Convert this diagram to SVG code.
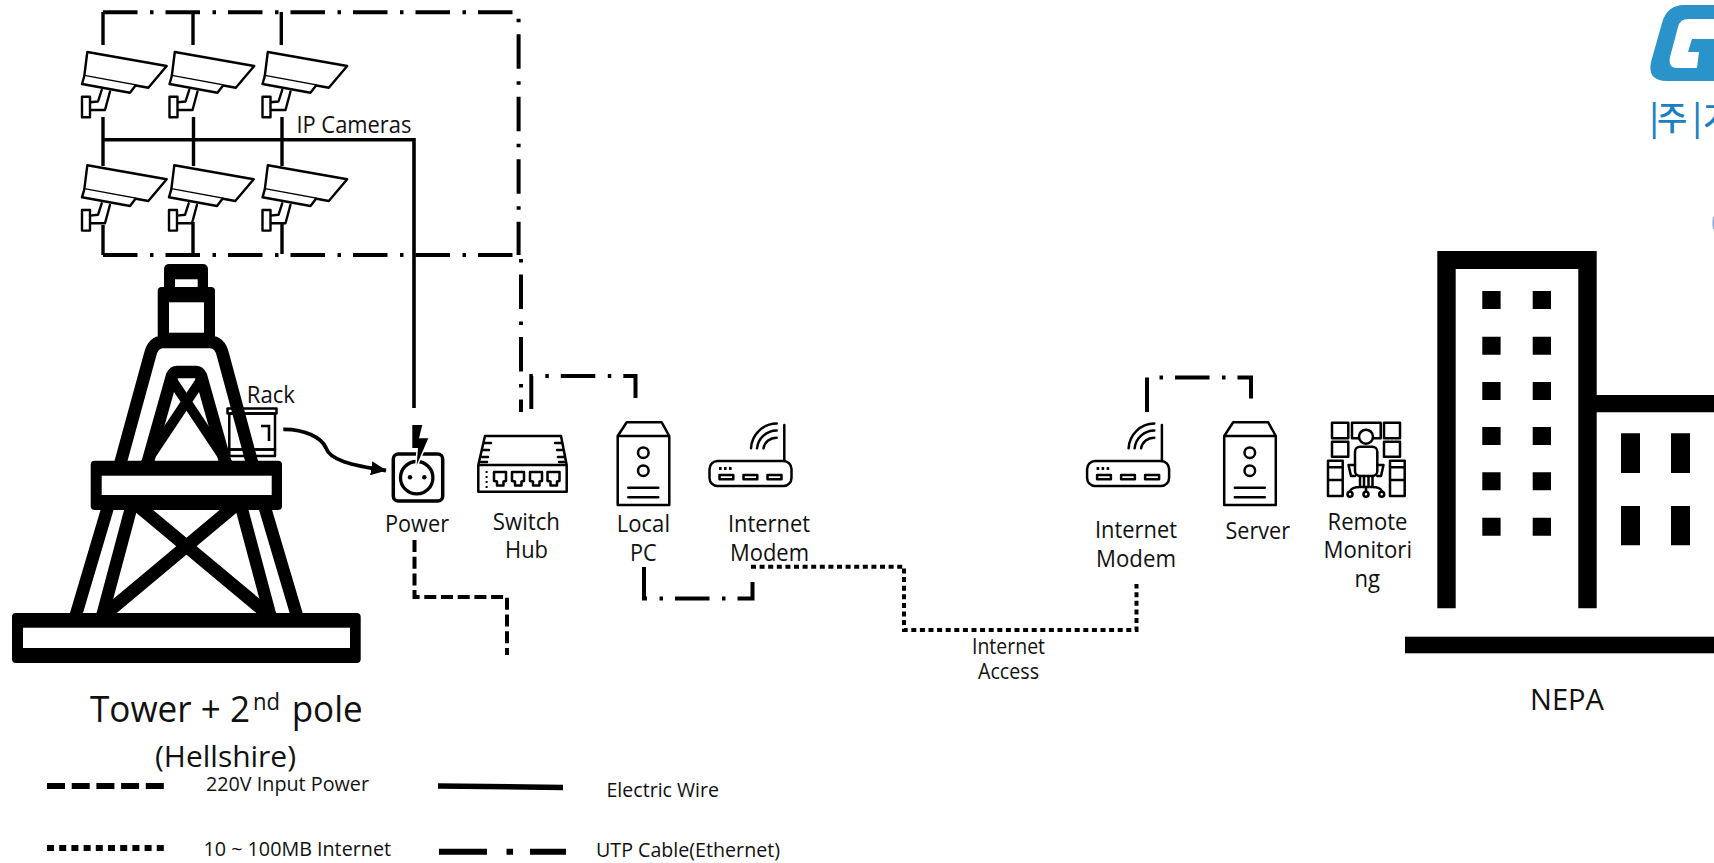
<svg xmlns="http://www.w3.org/2000/svg" xmlns:xlink="http://www.w3.org/1999/xlink" width="1714" height="863" viewBox="0 0 1714 863">
<style>
text{font-family:"Open Sans","Noto Sans","Liberation Sans",sans-serif;fill:#111}
.l{font-size:23px}
.s{font-size:21px}
.k{font-size:20px}
.i{fill:#fff;stroke:#000;stroke-width:2.4;stroke-linejoin:round;stroke-linecap:round}
.n{fill:none;stroke:#000;stroke-width:2.5;stroke-linejoin:round;stroke-linecap:round}
.c{fill:none;stroke:#000;stroke-width:3.4;stroke-linejoin:miter}
.utp{fill:none;stroke:#000;stroke-width:4;stroke-dasharray:34.5 12.5 3.5 12}
.wire{fill:none;stroke:#000;stroke-width:3.6}
.pw{fill:none;stroke:#000;stroke-width:4;stroke-dasharray:12 4.7}
.net{fill:none;stroke:#000;stroke-width:4;stroke-dasharray:5 3.6}
.t{fill:none;stroke:#000;stroke-width:12.5;stroke-linejoin:round}
</style>
<defs>
<marker id="ah" markerUnits="userSpaceOnUse" markerWidth="16" markerHeight="16" refX="15" refY="8" orient="auto"><path d="M0,1 L15.5,8 L0,15 Z" fill="#000"/></marker>
<g id="cam">
<path class="i" d="M87.3,52 L166.7,66 L148.3,87.7 L84.3,76 Z"/>
<path class="i" d="M84.3,76 L82,84 L130,92.7 L135.5,85.5"/>
<path class="i" d="M101.7,90 L98,101.5 L90,102.3 M90,110 L105,110 L110,91.5"/>
<rect class="i" x="82" y="96.7" width="8" height="20.6"/>
</g>
<g id="box">
<path class="n" d="M617.7,436 L626.7,422.3 H661.7 L669.3,436 Z M617.7,436 V505 H669.3 V436"/>
<circle class="n" cx="643.3" cy="452.7" r="5.3"/>
<circle class="n" cx="643.3" cy="470.7" r="5.3"/>
<path class="n" d="M628.3,487.7 H658.3 M628.3,497.3 H658.3"/>
</g>
<g id="router">
<rect class="n" x="709.5" y="461" width="82" height="25" rx="8"/>
<path class="n" d="M784.3,425 V461"/>
<path class="n" d="M751,448.3 A26,26 0 0 1 776.7,423.5 M757,448.3 A20,20 0 0 1 776.7,430.5 M763.5,448.3 A13,13 0 0 1 776.7,437.7"/>
<path class="n" d="M719.5,475 H733.3 V479.3 H719.5 Z M743.5,475 H757.3 V479.3 H743.5 Z M767.5,475 H781.5 V479.3 H767.5 Z"/>
<path d="M719,467 h2.6 v3 h-2.6 z M724,467 h2.6 v3 h-2.6 z M729,467 h2.6 v3 h-2.6 z" fill="#000"/>
</g>
<path id="port" class="n" d="M0,0 H12 V9 L9.5,9.5 V13.5 H3 V9.5 L0,9 Z"/>
</defs>

<rect width="1714" height="863" fill="#fff"/>

<g id="connectors">
<path class="utp" d="M103,12.3 H518.6 V255"/>
<path class="utp" d="M103,255 H521 V412"/>
<path class="c" d="M103,12 V45 M193,12 V45 M281.3,12 V45"/>
<path class="c" d="M103,117 V166 M193.5,117 V166 M282,117 V166"/>
<path class="c" d="M103,225 V255 M193,222 V255 M282,222 V254"/>
<path class="wire" d="M103,139.7 H414 V408"/>
<path class="utp" d="M531.3,409 V376 H635.5 V398"/>
<path class="utp" d="M644,567 V598.5 H752.5 V582"/>
<path class="utp" d="M1147,412 V377.5 H1251 V401"/>
<path class="pw" d="M414.5,540 V597 H507 V655"/>
<path class="net" d="M751,566.7 H904 V630 H1136.5 V584"/>
<path d="M283.3,429.3 C305,429 322,438 326,448 C330,460 350,465 386,470.5" fill="none" stroke="#000" stroke-width="3.8" marker-end="url(#ah)"/>
</g>

<g id="cameras">
<use xlink:href="#cam"/><use xlink:href="#cam" x="87.5"/><use xlink:href="#cam" x="180.5"/>
<use xlink:href="#cam" y="113.3"/><use xlink:href="#cam" x="87" y="113.3"/><use xlink:href="#cam" x="180.5" y="113.3"/>
<text class="l" x="296.4" y="133.3" textLength="115" lengthAdjust="spacingAndGlyphs">IP Cameras</text>
</g>

<g id="rack">
<rect class="n" x="227.5" y="408.5" width="49" height="5"/>
<rect class="n" x="229.3" y="413.5" width="45.7" height="36"/>
<rect class="n" x="229.3" y="449.5" width="45.7" height="6.5"/>
<path d="M261,426 H269 V441" fill="none" stroke="#000" stroke-width="2.6"/>
<text class="l" x="246.7" y="402.7" textLength="48.3" lengthAdjust="spacingAndGlyphs">Rack</text>
</g>

<g id="tower">
<path class="t" d="M118.5,470 L150,355 Q153,342 163,342 H210 Q220,342 223,355 L254,470"/>
<path class="t" d="M145.5,470 L172,376 Q174,372 177,372 H196 Q199,372 201,376 L227.5,470"/>
<path class="t" style="stroke-width:10" d="M172,380 L232,470 M201,380 L141,470"/>
<path class="t" d="M110,500 L73.8,622 M133.2,500 L100.6,622 M262.6,500 L298.8,622 M239.4,500 L272,622"/>
<path class="t" style="stroke-width:13" d="M131,500 L276,621 M241.7,500 L97,621"/>
<rect x="164" y="264" width="44" height="30" rx="5" fill="#000"/>
<rect x="175" y="279.3" width="22.7" height="8" fill="#fff"/>
<rect x="157.7" y="287" width="57.3" height="52" rx="4" fill="#000"/>
<rect x="169" y="302.3" width="35" height="30.4" fill="#fff"/>
<rect x="90.7" y="460.7" width="191.3" height="49.3" rx="4" fill="#000"/>
<rect x="101.7" y="475.7" width="170" height="19.3" fill="#fff"/>
<rect x="12" y="613" width="348.7" height="50" rx="4" fill="#000"/>
<rect x="23" y="627.7" width="327" height="20.3" fill="#fff"/>
<text style="font-size:36px" x="90" y="721.7"><tspan textLength="160" lengthAdjust="spacingAndGlyphs">Tower + 2</tspan><tspan x="253" y="710" style="font-size:23px" textLength="27" lengthAdjust="spacingAndGlyphs">nd</tspan><tspan x="291.7" y="721.7" textLength="71" lengthAdjust="spacingAndGlyphs">pole</tspan></text>
<text style="font-size:30px" x="155" y="766.7" textLength="141" lengthAdjust="spacingAndGlyphs">(Hellshire)</text>
</g>

<g id="power">
<rect x="393.3" y="453.9" width="49.4" height="47.2" rx="5" fill="none" stroke="#000" stroke-width="3.5"/>
<circle cx="416.7" cy="477.7" r="16.2" fill="none" stroke="#000" stroke-width="3.3"/>
<circle cx="410" cy="477.3" r="2.2"/><circle cx="424.3" cy="477.3" r="2.2"/>
<path d="M412.3,425 H422.3 L419,438.3 H428.3 L416.7,465 L418,448 H412.3 Z" fill="#000" stroke="#fff" stroke-width="3" paint-order="stroke"/>
<text class="l" x="385" y="532" textLength="64" lengthAdjust="spacingAndGlyphs">Power</text>
</g>

<g id="switch">
<path class="n" d="M485,436 H561 L566.7,465 H478.3 Z M478.3,465 V491.7 H566.7 V465"/>
<path class="n" d="M484,443 H491 M483,450 H489 M482,457 H488 M481,462 H487 M555,443 H562 M557,450 H563 M558,457 H564 M559,462 H565"/>
<path d="M485.6,471 h2 v2 h-2 z M485.6,476 h2 v2 h-2 z M485.6,481 h2 v2 h-2 z M485.6,486 h2 v2 h-2 z" fill="#000"/>
<use xlink:href="#port" x="494" y="472"/><use xlink:href="#port" x="512" y="472"/><use xlink:href="#port" x="530" y="472"/><use xlink:href="#port" x="547.5" y="472"/>
<text class="l" x="492.7" y="530" textLength="67.3" lengthAdjust="spacingAndGlyphs">Switch</text>
<text class="l" x="505" y="558" textLength="43" lengthAdjust="spacingAndGlyphs">Hub</text>
</g>

<g id="local-pc">
<use xlink:href="#box"/>
<text class="l" x="616.7" y="532" textLength="53.3" lengthAdjust="spacingAndGlyphs">Local</text>
<text class="l" x="630" y="560.7" textLength="26.6" lengthAdjust="spacingAndGlyphs">PC</text>
</g>

<g id="modem-local">
<use xlink:href="#router"/>
<text class="l" x="728" y="532" textLength="82" lengthAdjust="spacingAndGlyphs">Internet</text>
<text class="l" x="730" y="560.7" textLength="79" lengthAdjust="spacingAndGlyphs">Modem</text>
</g>

<g id="internet-access">
<text class="s" x="972" y="654" textLength="73" lengthAdjust="spacingAndGlyphs">Internet</text>
<text class="s" x="978" y="679" textLength="61" lengthAdjust="spacingAndGlyphs">Access</text>
</g>

<g id="modem-remote">
<use xlink:href="#router" x="377.6"/>
<text class="l" x="1095" y="538" textLength="82" lengthAdjust="spacingAndGlyphs">Internet</text>
<text class="l" x="1096" y="566.7" textLength="80" lengthAdjust="spacingAndGlyphs">Modem</text>
</g>

<g id="server">
<use xlink:href="#box" x="606.5"/>
<text class="l" x="1225.4" y="539" textLength="64.6" lengthAdjust="spacingAndGlyphs">Server</text>
</g>

<g id="remote-monitoring">
<path class="n" d="M1332,422.7 H1348.3 V438.3 H1332 Z M1384,422.7 H1400 V438.3 H1384 Z M1332,441.7 H1348.3 V456.7 H1332 Z M1384,441.7 H1400 V456.7 H1384 Z"/>
<path class="n" d="M1352,422.7 H1380.7 V438.3 H1373 M1352,422.7 V438.3 H1359"/>
<circle class="n" cx="1366" cy="436.7" r="7"/>
<rect class="n" x="1355" y="446.7" width="22.3" height="29.3" rx="5"/>
<path class="n" d="M1328,460.7 H1342.7 V496 H1328 Z M1328,467.3 H1342.7 M1328,480 H1342.7 M1390,460.7 H1404.7 V496 H1390 Z M1390,467.3 H1404.7 M1390,480 H1404.7"/>
<path class="n" d="M1348.5,465 H1355 M1348.5,465 L1351,476 H1355 M1383.5,465 H1377.3 M1383.5,465 L1381,476 H1377.3"/>
<path class="n" d="M1360,476 V487 M1364,476 V487 M1368.5,476 V487 M1372.5,476 V487 M1350,491 Q1352,487 1360,487 H1372 Q1380,487 1382,491 M1366,487 V491"/>
<circle class="n" cx="1350" cy="494.3" r="2.5"/><circle class="n" cx="1366" cy="494.3" r="2.5"/><circle class="n" cx="1381.7" cy="494.3" r="2.5"/>
<text class="l" x="1327.6" y="530" textLength="79.9" lengthAdjust="spacingAndGlyphs">Remote</text>
<text class="l" x="1323.5" y="558" textLength="88.5" lengthAdjust="spacingAndGlyphs">Monitori</text>
<text class="l" x="1354.5" y="586.7" textLength="25.5" lengthAdjust="spacingAndGlyphs">ng</text>
</g>

<g id="nepa">
<path d="M1437.3,608.3 V251 H1596.7 V395 H1714 V412.3 H1596.7 V608.3 H1578.3 V269 H1455.7 V608.3 Z" fill="#000"/>
<rect x="1405" y="636.7" width="309" height="16.6"/>
<g fill="#000">
<path d="M1482.3,291h18.3v18h-18.3zM1532.7,291h18.3v18h-18.3zM1482.3,336.7h18.3v18h-18.3zM1532.7,336.7h18.3v18h-18.3zM1482.3,382h18.3v18h-18.3zM1532.7,382h18.3v18h-18.3zM1482.3,427h18.3v18h-18.3zM1532.7,427h18.3v18h-18.3zM1482.3,472.3h18.3v18h-18.3zM1532.7,472.3h18.3v18h-18.3zM1482.3,517.7h18.3v18h-18.3zM1532.7,517.7h18.3v18h-18.3z"/>
<path d="M1621,433.3h19v39.7h-19zM1671,433.3h19v39.7h-19zM1621,506h19v39.3h-19zM1671,506h19v39.3h-19z"/>
</g>
<text style="font-size:30px" x="1530" y="710" textLength="74" lengthAdjust="spacingAndGlyphs">NEPA</text>
</g>

<g id="logo">
<path d="M1714,5 H1684 Q1667,5 1662,23 L1651,62 Q1647,81 1667,81 H1714 V39 H1692 L1688,52 H1699 L1697,68 H1677 Q1668,68 1670,57 L1678,27 Q1680,19 1688,19 H1714 Z" fill="#2a93c9"/>
<text x="1649.5 1657 1692.5 1703" y="130" style="font-size:33px;font-weight:500;font-family:'Noto Sans CJK KR','Noto Sans',sans-serif;fill:#1a80c4">|주|가</text>
<ellipse cx="1713.6" cy="223" rx="1.2" ry="6.5" fill="#8fa8e0"/>
</g>

<g id="legend">
<path d="M47,786 H164" fill="none" stroke="#000" stroke-width="6" stroke-dasharray="18 6.7"/>
<text class="k" x="206" y="790.7" textLength="163" lengthAdjust="spacingAndGlyphs">220V Input Power</text>
<path d="M438,786 L563,787.5" fill="none" stroke="#000" stroke-width="5.5"/>
<text class="k" x="606.5" y="797" textLength="112.5" lengthAdjust="spacingAndGlyphs">Electric Wire</text>
<path d="M47,848 H164" fill="none" stroke="#000" stroke-width="6" stroke-dasharray="7 5.2"/>
<text class="k" x="203.5" y="855.7" textLength="187.5" lengthAdjust="spacingAndGlyphs">10 ~ 100MB Internet</text>
<path d="M439,851.7 H487 M506.5,851.7 H513 M530,851.7 H566" fill="none" stroke="#000" stroke-width="6"/>
<text class="k" x="596" y="857" textLength="184" lengthAdjust="spacingAndGlyphs">UTP Cable(Ethernet)</text>
</g>
</svg>
